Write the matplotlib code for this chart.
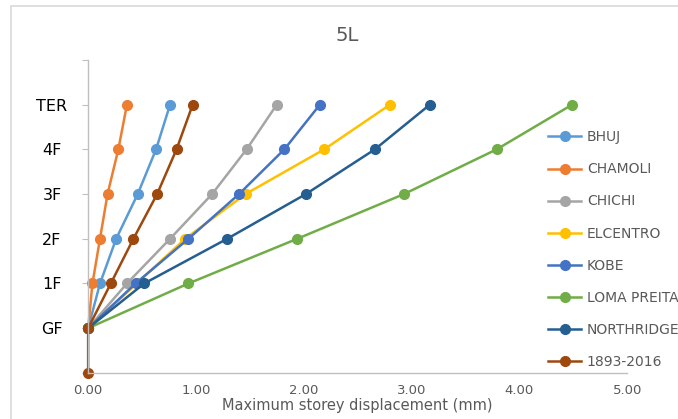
import matplotlib.pyplot as plt
from matplotlib.patches import Rectangle

# floor levels (0 = base, 1 = GF ... 6 = TER)
niveaux = [1, 2, 3, 4, 5, 6]
etiquettes = ["", "GF", "1F", "2F", "3F", "4F", "TER", ""]

bhuj = [0.00, 0.11, 0.26, 0.46, 0.63, 0.76]
chamoli = [0.00, 0.04, 0.11, 0.18, 0.28, 0.36]
chichi = [0.00, 0.36, 0.76, 1.15, 1.47, 1.75]
elcentro = [0.00, 0.45, 0.90, 1.46, 2.19, 2.80]
kobe = [0.00, 0.44, 0.93, 1.40, 1.82, 2.15]
loma = [0.00, 0.93, 1.94, 2.93, 3.79, 4.49]
northridge = [0.00, 0.52, 1.29, 2.02, 2.66, 3.17]
niveaux_1893 = [0, 1, 2, 3, 4, 5, 6]
s1893 = [0.00, 0.00, 0.21, 0.42, 0.64, 0.82, 0.97]

series = [
    ("BHUJ", bhuj, niveaux, "#5B9BD5"),
    ("CHAMOLI", chamoli, niveaux, "#ED7D31"),
    ("CHICHI", chichi, niveaux, "#A5A5A5"),
    ("ELCENTRO", elcentro, niveaux, "#FFC000"),
    ("KOBE", kobe, niveaux, "#4472C4"),
    ("LOMA PREITA", loma, niveaux, "#70AD47"),
    ("NORTHRIDGE", northridge, niveaux, "#255E91"),
    ("1893-2016", s1893, niveaux_1893, "#9E480E"),
]

fig = plt.figure(figsize=(6.78, 4.19), dpi=100)
fig.patches.append(Rectangle((11 / 678, -0.1), 1.2, 1.1 - 6 / 419,
                             transform=fig.transFigure, fill=False,
                             edgecolor="#D9D9D9", linewidth=1.2))
ax = fig.add_axes([0.130, 0.110, 0.795, 0.747])

for nom, xs, ys, couleur in series:
    ax.plot(xs, ys, color=couleur, linewidth=1.8, marker="o", markersize=7,
            label=nom, clip_on=False)

ax.set_xlim(0, 5)
ax.set_ylim(0, 7)
ax.set_xticks([0, 1, 2, 3, 4, 5])
ax.set_xticklabels(["%.2f" % v for v in range(6)], color="#595959", fontsize=9.5)
ax.set_yticks(range(8))
ax.set_yticklabels(etiquettes, fontsize=11.5, color="black", ha="center")
ax.tick_params(axis="x", length=0, pad=8)
ax.tick_params(axis="y", length=4, color="#BFBFBF", pad=22)

for s in ["top", "right"]:
    ax.spines[s].set_visible(False)
for s in ["left", "bottom"]:
    ax.spines[s].set_color("#BFBFBF")
    ax.spines[s].set_linewidth(1)

ax.set_xlabel("Maximum storey displacement (mm)", fontsize=10.5,
              color="#595959", labelpad=1)
fig.text(0.512, 0.915, "5L", fontsize=14, color="#595959", ha="center", va="center")

ax.legend(loc="upper left", bbox_to_anchor=(0.853, 0.775), frameon=False,
          fontsize=10, labelcolor="#595959", handlelength=2.4,
          labelspacing=1.3, handletextpad=0.4, borderaxespad=0, borderpad=0)

fig.savefig("out.png", dpi=100)
